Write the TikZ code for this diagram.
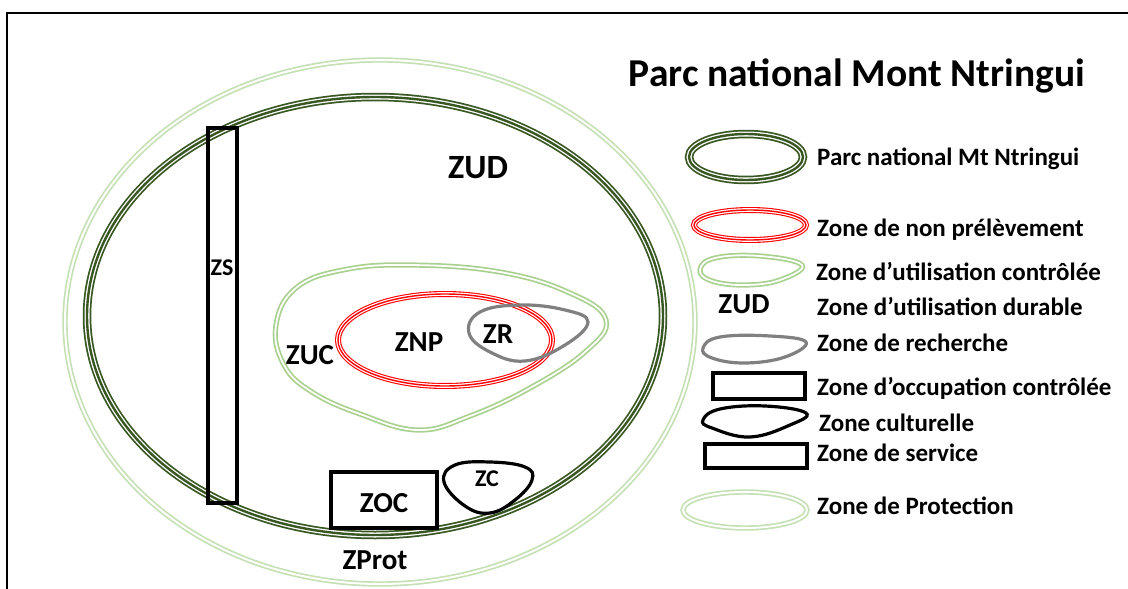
\documentclass[tikz,border=0pt]{standalone}
\usepackage{fontspec}
\setmainfont{Carlito}
\usetikzlibrary{positioning}
\definecolor{park-green}{RGB}{56, 87, 35}
\definecolor{zuc-green}{RGB}{169, 208, 142}
\definecolor{prot-green}{RGB}{197, 224, 180}
\definecolor{znp-red}{RGB}{255, 0, 0}
\definecolor{zr-gray}{RGB}{128, 128, 128}
\tikzset{
  park line/.style={preaction={draw=park-green, line width=8.5pt}, draw=white, line width=5pt, postaction={draw=park-green, line width=2.4pt}},
  znp line/.style={preaction={draw=znp-red, line width=6pt}, draw=white, line width=3.8pt, postaction={draw=znp-red, line width=1.4pt}},
  zuc line/.style={draw=zuc-green, double=white, double distance=1.8pt, line width=1.7pt},
  prot line/.style={draw=prot-green, double=white, double distance=2pt, line width=1.7pt},
  zr line/.style={draw=zr-gray, line width=3.2pt},
  zone line/.style={draw=black, line width=3.2pt},
  zone label/.style={font=\bfseries\fontsize{29}{29}\selectfont, inner sep=0pt},
  small label/.style={font=\bfseries\fontsize{24}{24}\selectfont, inner sep=0pt},
  legend text/.style={anchor=base west, font=\bfseries\fontsize{25}{25}\selectfont, inner sep=0pt}
}
\begin{document}
\begin{tikzpicture}[x=1pt, y=-1pt]
\useasboundingbox (0,0) rectangle (1128,589);
\draw[line width=2pt] (7,589) -- (7,13) -- (1128,13);

% map
\draw[prot line] (380,322) ellipse [x radius=315pt, y radius=262pt];
\draw[park line] (375,316) ellipse [x radius=288pt, y radius=219pt];
\draw[zuc line] plot[smooth cycle, tension=0.7] coordinates {(276,325) (296,288) (343,270) (410,265) (500,272) (570,293) (606,320) (585,352) (530,388) (470,416) (418,430) (360,414) (312,392) (284,365)};
\draw[znp line] (445,340) ellipse [x radius=107pt, y radius=46pt];
\draw[zr line] plot[smooth cycle, tension=0.7] coordinates {(469,333) (480,312) (520,305) (565,310) (588,322) (565,345) (525,361) (490,352)};
\draw[zone line] (208,128) rectangle (237,503);
\draw[zone line] (331,472) rectangle (437,528);
\draw[zone line] plot[smooth cycle, tension=0.7] coordinates {(444,482) (455,465) (490,462) (525,467) (532,480) (515,500) (490,513) (465,506)};

\node[zone label, font=\bfseries\fontsize{34}{34}\selectfont] (zud) at (478,168) {ZUD};
\node[small label] (zs) at (222,268) {ZS};
\node[zone label] (zuc) at (310,355) {ZUC};
\node[zone label] (znp) at (419,342) {ZNP};
\node[zone label] (zr) at (498,334) {ZR};
\node[zone label] (zoc) at (384,503) {ZOC};
\node[small label] (zc) at (487,479) {ZC};
\node[zone label] (zprot) at (375,560) {ZProt};

% legend
\node[anchor=base, font=\bfseries\fontsize{39.5}{39.5}\selectfont, inner sep=0pt] (title) at (857,86) {Parc national Mont Ntringui};
\draw[park line] (746,157) ellipse [x radius=57pt, y radius=23pt];
\draw[znp line] (750,225) ellipse [x radius=56pt, y radius=15pt];
\draw[zuc line] plot[smooth cycle, tension=0.7] coordinates {(700,270) (715,258) (760,256) (802,265) (780,280) (745,285) (712,281)};
\node[zone label] (leg-zud) at (744,304) {ZUD};
\draw[zr line] plot[smooth cycle, tension=0.7] coordinates {(703,348) (720,337) (770,336) (806,342) (785,357) (745,363) (712,358)};
\draw[zone line] (713,373) rectangle (805,399);
\draw[zone line] plot[smooth cycle, tension=0.7] coordinates {(703,420) (720,409) (765,406) (806,413) (790,425) (750,437) (712,428)};
\draw[zone line] (705,444) rectangle (807,468);
\draw[prot line] (745,510) ellipse [x radius=62pt, y radius=18pt];

\node[legend text] (leg-park) at (817,165) {Parc national Mt Ntringui};
\node[legend text] (leg-znp) at (817,236) {Zone de non prélèvement};
\node[legend text] (leg-zuc) at (816,280) {Zone d’utilisation contrôlée};
\node[legend text] (leg-zud-txt) at (817,315) {Zone d’utilisation durable};
\node[legend text] (leg-zr) at (817,351) {Zone de recherche};
\node[legend text] (leg-zoc) at (817,395) {Zone d’occupation contrôlée};
\node[legend text] (leg-zc) at (819,431) {Zone culturelle};
\node[legend text] (leg-zs) at (817,461) {Zone de service};
\node[legend text] (leg-prot) at (817,514) {Zone de Protection};
\end{tikzpicture}
\end{document}
